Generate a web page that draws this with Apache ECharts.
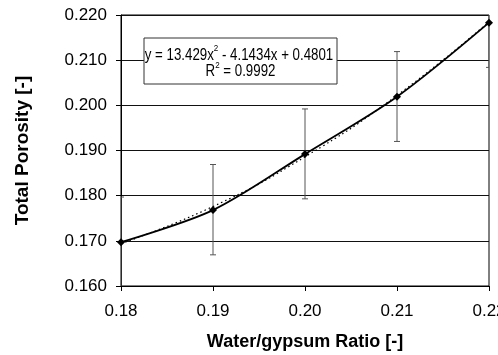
<!DOCTYPE html>
<html><head><meta charset="utf-8">
<script src="https://cdn.jsdelivr.net/npm/echarts@6/dist/echarts.min.js"></script>
<style>html,body{margin:0;padding:0;background:#fff}#c{width:498px;height:355px}</style>
</head><body><div id="c"></div>
<script>
const xValues = [0.18, 0.19, 0.20, 0.21, 0.22];
const porosity = [0.1697, 0.1768, 0.1892, 0.2019, 0.2183];
const errorLow = [0.1597, 0.1669, 0.1793, 0.1920, 0.2084];
const errorHigh = [0.1797, 0.1869, 0.1992, 0.2119, 0.2283];
const trendValues = [0.1694, 0.1776, 0.1886, 0.2022, 0.2185];
const xTickLabels = ['0.18', '0.19', '0.20', '0.21', '0.22'];
const yTickLabels = ['0.160', '0.170', '0.180', '0.190', '0.200', '0.210', '0.220'];
const equationText = '{n|y = 13.429x}{sup|2}{n| - 4.1434x + 0.4801}';
const r2Text = '{n|R}{sup|2}{n| = 0.9992}';

const font = 'Liberation Sans, Arial, sans-serif';
const chart = echarts.init(document.getElementById('c'), null, {renderer: 'canvas'});
const richStyles = {
  n: {fontSize: 13.3, fontFamily: font, fill: '#000', verticalAlign: 'bottom', lineHeight: 16},
  sup: {fontSize: 8, fontFamily: font, fill: '#000', verticalAlign: 'top', lineHeight: 16}
};
chart.setOption({
  animation: false,
  grid: {left: 121, right: 9, top: 15, bottom: 69, show: true, borderColor: '#000', borderWidth: 1,
    containLabel: false, outerBoundsMode: 'none'},
  xAxis: {
    type: 'value', min: 0.18, max: 0.22, interval: 0.01,
    name: 'Water/gypsum Ratio [-]', nameLocation: 'middle', nameGap: 47,
    nameTextStyle: {fontFamily: font, fontWeight: 'bold', fontSize: 18, color: '#000'},
    axisLine: {show: true, lineStyle: {color: '#000', width: 1}},
    axisTick: {show: true, length: 5, lineStyle: {color: '#000'}},
    axisLabel: {fontFamily: font, fontSize: 17, color: '#000', margin: 17, hideOverlap: false,
      formatter: (v, i) => xTickLabels[i]},
    splitLine: {show: false}
  },
  yAxis: {
    type: 'value', min: 0.16, max: 0.22, interval: 0.01,
    name: 'Total Porosity [-]', nameLocation: 'middle', nameGap: 89,
    nameTextStyle: {fontFamily: font, fontWeight: 'bold', fontSize: 19, color: '#000'},
    axisLine: {show: true, lineStyle: {color: '#000', width: 1}},
    axisTick: {show: true, length: 5, lineStyle: {color: '#000'}},
    axisLabel: {fontFamily: font, fontSize: 17, color: '#000', margin: 14,
      formatter: (v, i) => yTickLabels[i]},
    splitLine: {show: true, lineStyle: {color: '#111', width: 1}}
  },
  series: [
    {
      type: 'custom', name: 'error', clip: true, z: 3,
      data: xValues.map((x, i) => [x, errorLow[i], errorHigh[i]]),
      renderItem: function (params, api) {
        const lo = api.coord([api.value(0), api.value(1)]);
        const hi = api.coord([api.value(0), api.value(2)]);
        const w = 3;
        const st = {stroke: '#555', lineWidth: 1};
        return {type: 'group', children: [
          {type: 'line', shape: {x1: hi[0], y1: hi[1], x2: lo[0], y2: lo[1]}, style: st},
          {type: 'line', shape: {x1: hi[0] - w, y1: hi[1], x2: hi[0] + w, y2: hi[1]}, style: st},
          {type: 'line', shape: {x1: lo[0] - w, y1: lo[1], x2: lo[0] + w, y2: lo[1]}, style: st}
        ]};
      }
    },
    {
      type: 'line', name: 'trend', smooth: true, showSymbol: false, z: 4,
      data: xValues.map((x, i) => [x, trendValues[i]]),
      lineStyle: {color: '#000', width: 1.2, type: [1.5, 3]}
    },
    {
      type: 'line', name: 'porosity', smooth: 0.3, z: 5,
      data: xValues.map((x, i) => [x, porosity[i]]),
      symbol: 'diamond', symbolSize: 8,
      itemStyle: {color: '#000'},
      lineStyle: {color: '#000', width: 1.8}
    }
  ],
  graphic: [
    {type: 'rect', x: 144, y: 38, z: 10,
      shape: {width: 193, height: 46},
      style: {fill: '#fff', stroke: '#333', lineWidth: 1}},
    {type: 'text', x: 239, y: 44, scaleY: 1.2, z: 11,
      style: {text: equationText, x: 0, y: 0, align: 'center', verticalAlign: 'top', rich: richStyles}},
    {type: 'text', x: 240.5, y: 60.5, scaleY: 1.2, z: 11,
      style: {text: r2Text, x: 0, y: 0, align: 'center', verticalAlign: 'top', rich: richStyles}}
  ]
});
</script></body></html>
